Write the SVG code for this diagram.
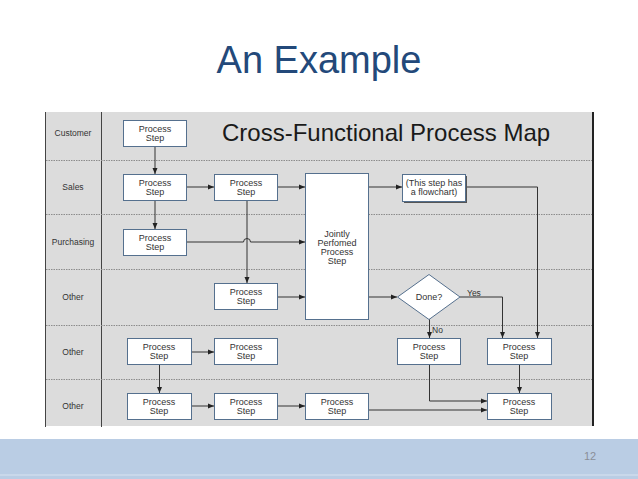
<svg xmlns="http://www.w3.org/2000/svg" width="638" height="479" viewBox="0 0 638 479">
<defs>
<marker id="ah" markerWidth="6" markerHeight="6" refX="6" refY="3" orient="auto" markerUnits="userSpaceOnUse">
<path d="M0,0.5 L6,3 L0,5.5 Z" fill="#222"/>
</marker>
<style>
.lane{fill:none;stroke:#8c8c8c;stroke-width:1;stroke-dasharray:1.5,1}
.box{fill:#fff;stroke:#55708e;stroke-width:1}
.bt{font-family:"Liberation Sans",Arial,sans-serif;font-size:9px;fill:#333;text-anchor:middle}
.lt{font-family:"Liberation Sans",Arial,sans-serif;font-size:8.5px;fill:#333;text-anchor:middle}
.c{fill:none;stroke:#333;stroke-width:1}
.ca{fill:none;stroke:#333;stroke-width:1;marker-end:url(#ah)}
</style>
</defs>
<rect x="0" y="0" width="638" height="479" fill="#fff"/>
<text x="319" y="73" font-family="'Liberation Sans',Arial,sans-serif" font-size="38" fill="#23497a" text-anchor="middle">An Example</text>
<g id="footer">
<rect x="0" y="439" width="638" height="40" fill="#bacde4"/>
<rect x="0" y="474" width="638" height="2" fill="#c9d8ea"/>
<text x="590" y="460" font-family="'Liberation Sans',Arial,sans-serif" font-size="11" fill="#8a8f98" text-anchor="middle">12</text>
</g>
<g id="map">
<rect x="45" y="112" width="548" height="314" fill="#dcdcdc"/>
<line x1="45.5" y1="112" x2="45.5" y2="427" stroke="#444" stroke-width="1"/>
<line x1="101.5" y1="112" x2="101.5" y2="427" stroke="#444" stroke-width="1"/>
<line x1="593" y1="112" x2="593" y2="426" stroke="#222" stroke-width="2"/>
<line class="lane" x1="46" y1="160.5" x2="592" y2="160.5"/>
<line class="lane" x1="46" y1="214.5" x2="592" y2="214.5"/>
<line class="lane" x1="46" y1="269.5" x2="592" y2="269.5"/>
<line class="lane" x1="46" y1="325.5" x2="592" y2="325.5"/>
<line class="lane" x1="46" y1="379.5" x2="592" y2="379.5"/>
<text x="222" y="141" font-family="'Liberation Sans',Arial,sans-serif" font-size="24" fill="#1a1a1a">Cross-Functional Process Map</text>
</g>
<g id="lanes">
<text class="lt" x="73" y="136">Customer</text>
<text class="lt" x="73" y="190">Sales</text>
<text class="lt" x="73" y="245">Purchasing</text>
<text class="lt" x="73" y="300">Other</text>
<text class="lt" x="73" y="355">Other</text>
<text class="lt" x="73" y="409">Other</text>
</g>
<g id="connectors">
<line class="ca" x1="155" y1="146" x2="155" y2="174"/>
<line class="ca" x1="187" y1="187" x2="214" y2="187"/>
<line class="ca" x1="278" y1="187" x2="305" y2="187"/>
<line class="ca" x1="155" y1="201" x2="155" y2="229"/>
<line class="ca" x1="247" y1="201" x2="247" y2="283"/>
<path class="ca" d="M187,242 H243.5 A3.5,3.5 0 0 1 250.5,242 H305"/>
<line class="ca" x1="278" y1="297" x2="305" y2="297"/>
<line class="ca" x1="369" y1="187" x2="402" y2="187"/>
<line class="ca" x1="369" y1="297" x2="397" y2="297"/>
<path class="ca" d="M466,187 H537.5 V338"/>
<path class="ca" d="M460,297 H502.5 V338"/>
<line class="ca" x1="429.5" y1="319" x2="429.5" y2="338"/>
<line class="ca" x1="192" y1="352" x2="214" y2="352"/>
<line class="ca" x1="159.5" y1="365" x2="159.5" y2="393"/>
<line class="ca" x1="192" y1="406" x2="214" y2="406"/>
<line class="ca" x1="278" y1="406" x2="305" y2="406"/>
<line class="ca" x1="369" y1="410" x2="487" y2="410"/>
<path class="ca" d="M429.5,365 V401 H487"/>
<line class="ca" x1="519.5" y1="365" x2="519.5" y2="393"/>
<text x="467" y="296" font-family="'Liberation Sans',Arial,sans-serif" font-size="8.5" fill="#333">Yes</text>
<text x="432" y="333" font-family="'Liberation Sans',Arial,sans-serif" font-size="8.5" fill="#333">No</text>
</g>
<g id="n1"><rect class="box" x="123.5" y="120.5" width="63" height="26"/><text class="bt" x="155" y="132">Process</text><text class="bt" x="155" y="141">Step</text></g>
<g id="n2"><rect class="box" x="123.5" y="174.5" width="63" height="26"/><text class="bt" x="155" y="186">Process</text><text class="bt" x="155" y="195">Step</text></g>
<g id="n3"><rect class="box" x="214.5" y="174.5" width="63" height="26"/><text class="bt" x="246" y="186">Process</text><text class="bt" x="246" y="195">Step</text></g>
<g id="n4"><rect class="box" x="305.5" y="173.5" width="63" height="146"/><text class="bt" x="337" y="237">Jointly</text><text class="bt" x="337" y="246">Perfomed</text><text class="bt" x="337" y="255">Process</text><text class="bt" x="337" y="264">Step</text></g>
<g id="n5"><rect x="404" y="176" width="63" height="27" fill="#555"/><rect class="box" x="402.5" y="174.5" width="63" height="27"/><text class="bt" x="434" y="186" font-size="8.5">(This step has</text><text class="bt" x="434" y="195" font-size="8.5">a flowchart)</text></g>
<g id="n6"><rect class="box" x="123.5" y="229.5" width="63" height="26"/><text class="bt" x="155" y="241">Process</text><text class="bt" x="155" y="250">Step</text></g>
<g id="n7"><rect class="box" x="214.5" y="283.5" width="63" height="26"/><text class="bt" x="246" y="295">Process</text><text class="bt" x="246" y="304">Step</text></g>
<g id="n8"><path d="M429,274.5 L460,297 L429,319.5 L397.5,297 Z" fill="#fff" stroke="#55708e" stroke-width="1"/><text class="bt" x="429" y="300">Done?</text></g>
<g id="n9"><rect class="box" x="127.5" y="338.5" width="64" height="26"/><text class="bt" x="159" y="350">Process</text><text class="bt" x="159" y="359">Step</text></g>
<g id="n10"><rect class="box" x="214.5" y="338.5" width="63" height="26"/><text class="bt" x="246" y="350">Process</text><text class="bt" x="246" y="359">Step</text></g>
<g id="n11"><rect class="box" x="397.5" y="338.5" width="63" height="26"/><text class="bt" x="429" y="350">Process</text><text class="bt" x="429" y="359">Step</text></g>
<g id="n12"><rect class="box" x="487.5" y="338.5" width="64" height="26"/><text class="bt" x="519" y="350">Process</text><text class="bt" x="519" y="359">Step</text></g>
<g id="n13"><rect class="box" x="127.5" y="393.5" width="64" height="26"/><text class="bt" x="159" y="405">Process</text><text class="bt" x="159" y="414">Step</text></g>
<g id="n14"><rect class="box" x="214.5" y="393.5" width="63" height="26"/><text class="bt" x="246" y="405">Process</text><text class="bt" x="246" y="414">Step</text></g>
<g id="n15"><rect class="box" x="305.5" y="393.5" width="63" height="26"/><text class="bt" x="337" y="405">Process</text><text class="bt" x="337" y="414">Step</text></g>
<g id="n16"><rect class="box" x="487.5" y="393.5" width="64" height="26"/><text class="bt" x="519" y="405">Process</text><text class="bt" x="519" y="414">Step</text></g>
</svg>
